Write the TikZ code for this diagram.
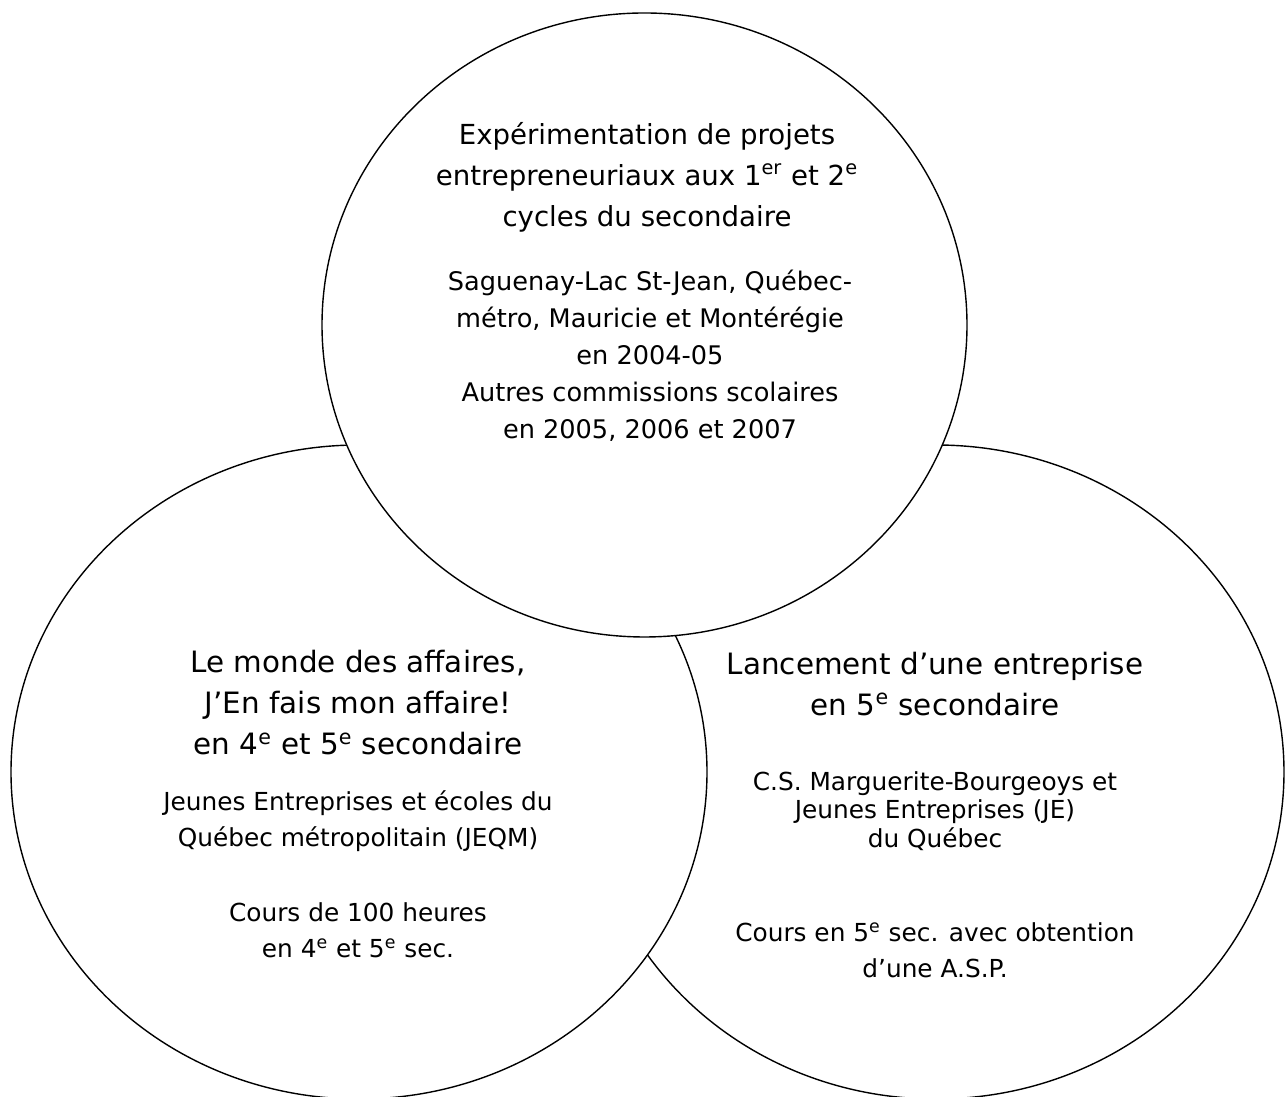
\documentclass[tikz,border=0pt]{standalone}
\usepackage{fontspec}
\setmainfont{DejaVu Sans}
\tikzset{
  rond/.style={draw, fill=white, line width=0.7pt},
  titrehaut/.style={align=center, inner sep=0pt, font=\fontsize{13.8}{20.5}\selectfont},
  titrebas/.style={align=center, inner sep=0pt, font=\fontsize{14.7}{20.5}\selectfont},
  detailhaut/.style={align=center, inner sep=0pt, font=\fontsize{12.8}{18.5}\selectfont},
  detailbas/.style={align=center, inner sep=0pt, font=\fontsize{12.4}{18}\selectfont},
}
\newcommand{\expo}[1]{\textsuperscript{#1}}
\begin{document}
\begin{tikzpicture}[x=0.5pt, y=0.5pt]
        \useasboundingbox (0,0) rectangle (1287,1097);

        % les trois cercles
        \draw[rond] (936,325) ellipse [x radius=348, y radius=327];
        \draw[rond] (359,325) ellipse [x radius=348, y radius=327];
        \draw[rond] (644.5,772) ellipse [x radius=322.5, y radius=312];

        % cercle du haut
        \node[titrehaut] (hautTitre) at (647,920)
            {Expérimentation de projets\\entrepreneuriaux aux 1\expo{er} et 2\expo{e}\\cycles du secondaire};
        \node[detailhaut] (hautDetail) at (650,741)
            {Saguenay-Lac St-Jean, Québec-\\métro, Mauricie et Montérégie\\en 2004-05\\Autres commissions scolaires\\en 2005, 2006 et 2007};

        % cercle de gauche
        \node[titrebas] (gaucheTitre) at (358,394)
            {Le monde des affaires,\\J’En fais mon affaire!\\en 4\expo{e} et 5\expo{e} secondaire};
        \node[detailbas] (gaucheDetail) at (358,276)
            {Jeunes Entreprises et écoles du\\Québec métropolitain (JEQM)};
        \node[detailbas] (gaucheCours) at (358,167)
            {Cours de 100 heures\\en 4\expo{e} et 5\expo{e} sec.};

        % cercle de droite
        \node[titrebas] (droiteTitre) at (935,413)
            {Lancement d’une entreprise\\en 5\expo{e} secondaire};
        \node[detailbas, font=\fontsize{12.4}{14.3}\selectfont] (droiteDetail) at (935,286)
            {C.S. Marguerite-Bourgeoys et\\Jeunes Entreprises (JE)\\du Québec};
        \node[detailbas] (droiteCours) at (935,147)
            {Cours en 5\expo{e} sec. avec obtention\\d’une A.S.P.};
\end{tikzpicture}
\end{document}
